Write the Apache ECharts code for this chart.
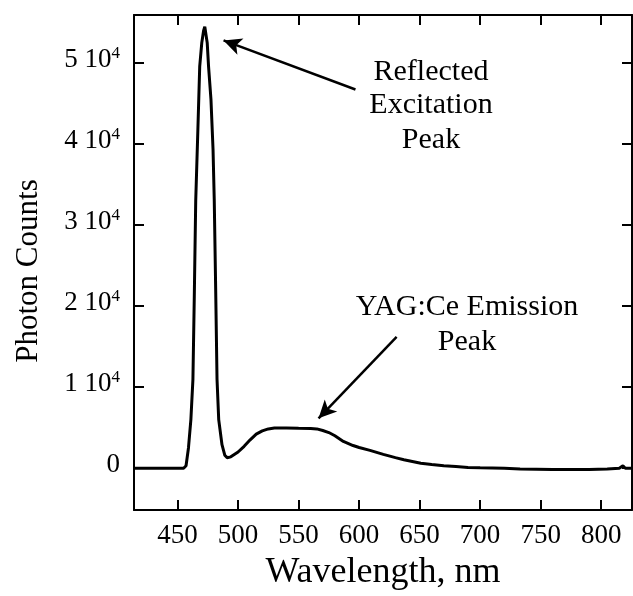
<!DOCTYPE html>
<html>
<head>
<meta charset="utf-8">
<script src="https://cdn.jsdelivr.net/npm/echarts@6/dist/echarts.min.js"></script>
<style>html,body{margin:0;padding:0;background:#fff;}#c{width:633px;height:596px;}</style>
</head>
<body>
<div id="c"></div>
<script>
// Data
const wavelengths = [414, 440, 455, 457, 459, 461, 462.7, 463.8, 465, 466.7, 468.3, 470, 471.5, 472.5, 473.5, 474.5, 475.6, 477.6, 479.3, 480.3, 481.5, 482.6, 484, 486.7, 489, 491, 494, 500, 505, 510, 515, 520, 525, 530, 540, 550, 560, 565, 570, 575, 580, 587, 595, 600, 609, 620, 630, 637, 645, 651, 660, 670, 680, 690, 700, 720, 733, 760, 790, 805, 815, 818, 820, 825.5];
const counts = [0, 0, 0, 300, 2500, 6000, 11000, 21000, 33000, 41400, 49600, 52500, 54000, 54500, 54300, 52500, 49600, 45500, 39400, 33200, 22000, 11000, 6000, 2900, 1600, 1300, 1400, 2000, 2700, 3500, 4200, 4600, 4850, 4950, 4950, 4920, 4900, 4850, 4650, 4400, 4000, 3300, 2800, 2550, 2200, 1700, 1300, 1050, 800, 600, 450, 300, 200, 100, 50, 0, -100, -150, -150, -100, 0, 300, 0, 0];
const xTicks = [450, 500, 550, 600, 650, 700, 750, 800];
const yTicks = [0, 10000, 20000, 30000, 40000, 50000];
const xRange = [414, 825.5];
const yRange = [-5160, 55940];
// Annotation arrows in data coordinates: [tail, tip]
const arrowExcitation = [[597, 46740], [488, 52800]];
const arrowEmission = [[631, 16200], [566.5, 6150]];
const textExcitation = ['Reflected', 'Excitation', 'Peak'];
const textEmission = ['YAG:Ce Emission', 'Peak'];

const FONT = '"Liberation Serif", "Times New Roman", serif';
const chart = echarts.init(document.getElementById('c'), null, {renderer: 'canvas'});

const seriesData = wavelengths.map((w, i) => [w, counts[i]]);
const axisCommon = {
  type: 'value',
  axisLine: {show: true, onZero: false, lineStyle: {color: '#000', width: 2}},
  axisTick: {show: true, inside: true, length: 10, lineStyle: {color: '#000', width: 2}},
  splitLine: {show: false}
};

function arrowLine(a) {
  return [{coord: a[0], symbol: 'none'}, {coord: a[1], symbol: 'arrow'}];
}

const graphics = [];
textExcitation.forEach((t, i) => {
  graphics.push({type: 'text', x: 431, y: [72, 105.5, 140][i],
    style: {text: t, font: '30px ' + FONT, fill: '#000', align: 'center', verticalAlign: 'middle'}});
});
textEmission.forEach((t, i) => {
  graphics.push({type: 'text', x: 467, y: [307, 342][i],
    style: {text: t, font: '30px ' + FONT, fill: '#000', align: 'center', verticalAlign: 'middle'}});
});

chart.setOption({
  backgroundColor: '#fff',
  animation: false,
  grid: {left: 134, top: 15, right: 1, bottom: 84, containLabel: false},
  xAxis: [
    Object.assign({}, axisCommon, {
      position: 'bottom', min: xRange[0], max: xRange[1],
      axisTick: Object.assign({}, axisCommon.axisTick, {customValues: xTicks}),
      axisLabel: {show: true, customValues: xTicks, margin: 12, color: '#000', fontFamily: FONT, fontSize: 27},
      name: 'Wavelength, nm', nameLocation: 'middle', nameGap: 45,
      nameTextStyle: {color: '#000', fontFamily: FONT, fontSize: 36}
    }),
    Object.assign({}, axisCommon, {
      position: 'top', min: xRange[0], max: xRange[1],
      axisTick: Object.assign({}, axisCommon.axisTick, {customValues: xTicks}),
      axisLabel: {show: false}
    })
  ],
  yAxis: [
    Object.assign({}, axisCommon, {
      position: 'left', min: yRange[0], max: yRange[1],
      axisTick: Object.assign({}, axisCommon.axisTick, {customValues: yTicks}),
      axisLabel: {
        show: true, customValues: yTicks, margin: 14, color: '#000',
        padding: [0, 0, 7, 0],
        formatter: v => v === 0 ? '{a|0}' : '{a|' + (v / 10000) + ' 10}{s|4}',
        rich: {
          a: {fontFamily: FONT, fontSize: 27, color: '#000', lineHeight: 30},
          s: {fontFamily: FONT, fontSize: 17, color: '#000', lineHeight: 18, verticalAlign: 'top'}
        }
      },
      name: 'Photon Counts', nameLocation: 'middle', nameGap: 90,
      nameTextStyle: {color: '#000', fontFamily: FONT, fontSize: 31, padding: [0, 17, 0, 0]}
    }),
    Object.assign({}, axisCommon, {
      position: 'right', min: yRange[0], max: yRange[1],
      axisTick: Object.assign({}, axisCommon.axisTick, {customValues: yTicks}),
      axisLabel: {show: false}
    })
  ],
  series: [{
    type: 'line',
    data: seriesData,
    showSymbol: false,
    symbol: 'none',
    smooth: false,
    lineStyle: {color: '#000', width: 3},
    markLine: {
      silent: true,
      animation: false,
      symbolSize: [13, 18],
      lineStyle: {color: '#000', width: 2.5, type: 'solid'},
      label: {show: false},
      emphasis: {disabled: true},
      data: [arrowLine(arrowExcitation), arrowLine(arrowEmission)]
    }
  }],
  graphic: graphics
});
</script>
</body>
</html>
